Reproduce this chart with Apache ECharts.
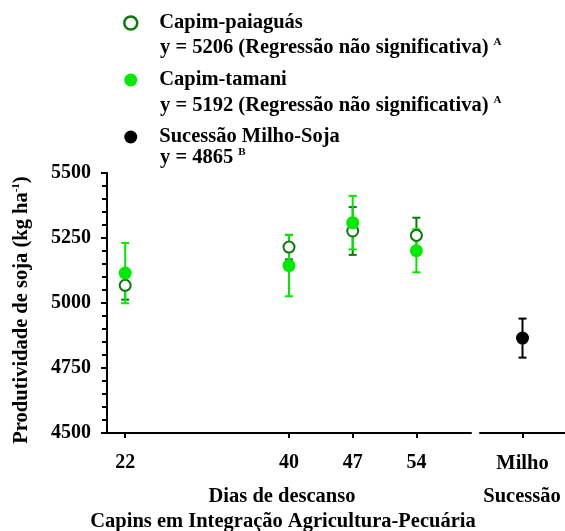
<!DOCTYPE html>
<html>
<head>
<meta charset="utf-8">
<script src="https://cdn.jsdelivr.net/npm/echarts@6/dist/echarts.min.js"></script>
<style>
  html, body { margin: 0; padding: 0; background: #fff; }
  #chart { width: 565px; height: 531px; }
</style>
</head>
<body>
<div id="chart"></div>
<script>
// Rest days of the grasses (x axis, integration system)
const days = [22, 40, 47, 54];
// Soybean yield after Capim-paiaguás (kg/ha) and its error
const paiaguasMean = [5068, 5215, 5277, 5260];
const paiaguasErr = [55, 47, 92, 68];
// Soybean yield after Capim-tamani (kg/ha) and its error
const tamaniMean = [5115, 5144, 5309, 5201];
const tamaniErr = [116, 118, 103, 83];
// Corn-soybean succession
const successionCategories = ['Milho'];
const successionMean = [4865];
const successionErr = [75];
// Axis ticks
const yTicks = [4500, 4750, 5000, 5250, 5500];

const FONT = '"Liberation Serif", "Times New Roman", serif';
const LIGHT = '#00ea00';
const DARK = '#0b7a0b';
const BLACK = '#000';

function errorBars(x, mean, err) {
  return mean.map((m, i) => [x[i], m - err[i], m + err[i]]);
}

function renderErrorBar(color) {
  return function (params, api) {
    const hi = api.coord([api.value(0), api.value(2)]);
    const lo = api.coord([api.value(0), api.value(1)]);
    const half = 4;
    const style = { stroke: color, lineWidth: 2 };
    return {
      type: 'group',
      children: [
        { type: 'line', shape: { x1: hi[0], y1: hi[1], x2: lo[0], y2: lo[1] }, style },
        { type: 'line', shape: { x1: hi[0] - half, y1: hi[1], x2: hi[0] + half, y2: hi[1] }, style },
        { type: 'line', shape: { x1: lo[0] - half, y1: lo[1], x2: lo[0] + half, y2: lo[1] }, style }
      ]
    };
  };
}

const chart = echarts.init(document.getElementById('chart'), null, { renderer: 'canvas' });

const textBold = { fontFamily: FONT, fontWeight: 'bold', fontSize: 20.5, color: '#000' };
const supStyle = { fontFamily: FONT, fontWeight: 'bold', fontSize: 11, color: '#000', verticalAlign: 'top', lineHeight: 22 };

const yAxisCommon = {
  type: 'value',
  min: yTicks[0],
  max: yTicks[yTicks.length - 1],
  interval: 250,
  splitLine: { show: false }
};

const option = {
  animation: false,
  backgroundColor: '#fff',
  grid: [
    { left: 107, top: 173, width: 364, height: 260 },
    { left: 480, top: 173, width: 88, height: 260 }
  ],
  xAxis: [
    {
      type: 'value', gridIndex: 0, min: 20, max: 60,
      splitLine: { show: false },
      axisLine: { show: true, lineStyle: { color: BLACK, width: 2 } },
      axisTick: { show: true, length: 5, lineStyle: { color: BLACK, width: 2 }, customValues: days },
      axisLabel: { ...textBold, fontSize: 20, margin: 20, customValues: days }
    },
    {
      type: 'category', gridIndex: 1, data: successionCategories, boundaryGap: true,
      axisLine: { show: true, lineStyle: { color: BLACK, width: 2 } },
      axisTick: { show: true, alignWithLabel: true, length: 5, lineStyle: { color: BLACK, width: 2 } },
      axisLabel: { ...textBold, margin: 20 }
    }
  ],
  yAxis: [
    {
      ...yAxisCommon, gridIndex: 0,
      axisLine: { show: true, lineStyle: { color: BLACK, width: 2 } },
      axisTick: { show: true, length: 6, lineStyle: { color: BLACK, width: 2 } },
      minorTick: { show: true, splitNumber: 5, length: 5, lineStyle: { color: BLACK, width: 2 } },
      axisLabel: { ...textBold, fontSize: 20, margin: 16, formatter: v => String(v) }
    },
    { ...yAxisCommon, gridIndex: 1, show: false }
  ],
  legend: {
    orient: 'vertical',
    left: 118,
    top: 7,
    itemWidth: 13,
    itemHeight: 13,
    itemGap: 35,
    selectedMode: false,
    textStyle: { ...textBold, lineHeight: 22, padding: [0, 0, 0, 17] },
    data: [
      { name: 'Capim-paiaguás', icon: 'circle', itemStyle: { color: '#fff', borderColor: DARK, borderWidth: 2.5, opacity: 1 } },
      { name: 'Capim-tamani', icon: 'circle', itemStyle: { color: LIGHT, borderWidth: 0, opacity: 1 } },
      { name: 'Sucessão Milho-Soja', icon: 'circle', itemStyle: { color: BLACK, borderWidth: 0, opacity: 1 } }
    ]
  },
  graphic: [
    {
      type: 'text', left: 160, top: 37,
      style: { text: 'y = 5206 (Regressão não significativa) {sup|A}', ...textBold, lineHeight: 22, rich: { sup: supStyle } }
    },
    {
      type: 'text', left: 160, top: 95,
      style: { text: 'y = 5192 (Regressão não significativa) {sup|A}', ...textBold, lineHeight: 22, rich: { sup: supStyle } }
    },
    {
      type: 'text', left: 160, top: 147,
      style: { text: 'y = 4865 {sup|B}', ...textBold, lineHeight: 22, rich: { sup: supStyle } }
    },
    {
      type: 'text', x: 22, y: 310, rotation: Math.PI / 2,
      style: {
        text: 'Produtividade de soja (kg ha{sup|-1})', ...textBold,
        align: 'center', verticalAlign: 'middle', lineHeight: 22, rich: { sup: supStyle }
      }
    },
    {
      type: 'text', x: 282, y: 497,
      style: { text: 'Dias de descanso', ...textBold, align: 'center', verticalAlign: 'middle' }
    },
    {
      type: 'text', x: 522, y: 497,
      style: { text: 'Sucessão', ...textBold, align: 'center', verticalAlign: 'middle' }
    },
    {
      type: 'text', x: 283, y: 522,
      style: { text: 'Capins em Integração Agricultura-Pecuária', ...textBold, align: 'center', verticalAlign: 'middle' }
    }
  ],
  series: [
    {
      name: 'paiaguás-erro', type: 'custom', xAxisIndex: 0, yAxisIndex: 0,
      renderItem: renderErrorBar(DARK), encode: { x: 0, y: [1, 2] },
      data: errorBars(days, paiaguasMean, paiaguasErr)
    },
    {
      name: 'Capim-paiaguás', type: 'scatter', xAxisIndex: 0, yAxisIndex: 0,
      symbol: 'emptyCircle', symbolSize: 11,
      itemStyle: { color: DARK, borderColor: DARK, borderWidth: 2.5, opacity: 1 },
      data: days.map((d, i) => [d, paiaguasMean[i]])
    },
    {
      name: 'tamani-erro', type: 'custom', xAxisIndex: 0, yAxisIndex: 0,
      renderItem: renderErrorBar(LIGHT), encode: { x: 0, y: [1, 2] },
      data: errorBars(days, tamaniMean, tamaniErr)
    },
    {
      name: 'Capim-tamani', type: 'scatter', xAxisIndex: 0, yAxisIndex: 0,
      symbol: 'circle', symbolSize: 13,
      itemStyle: { color: LIGHT, opacity: 1 },
      data: days.map((d, i) => [d, tamaniMean[i]])
    },
    {
      name: 'sucessão-erro', type: 'custom', xAxisIndex: 1, yAxisIndex: 1,
      renderItem: renderErrorBar(BLACK), encode: { x: 0, y: [1, 2] },
      data: errorBars(successionCategories, successionMean, successionErr)
    },
    {
      name: 'Sucessão Milho-Soja', type: 'scatter', xAxisIndex: 1, yAxisIndex: 1,
      symbol: 'circle', symbolSize: 13,
      itemStyle: { color: BLACK, opacity: 1 },
      data: successionCategories.map((c, i) => [c, successionMean[i]])
    }
  ]
};

chart.setOption(option);
</script>
</body>
</html>
